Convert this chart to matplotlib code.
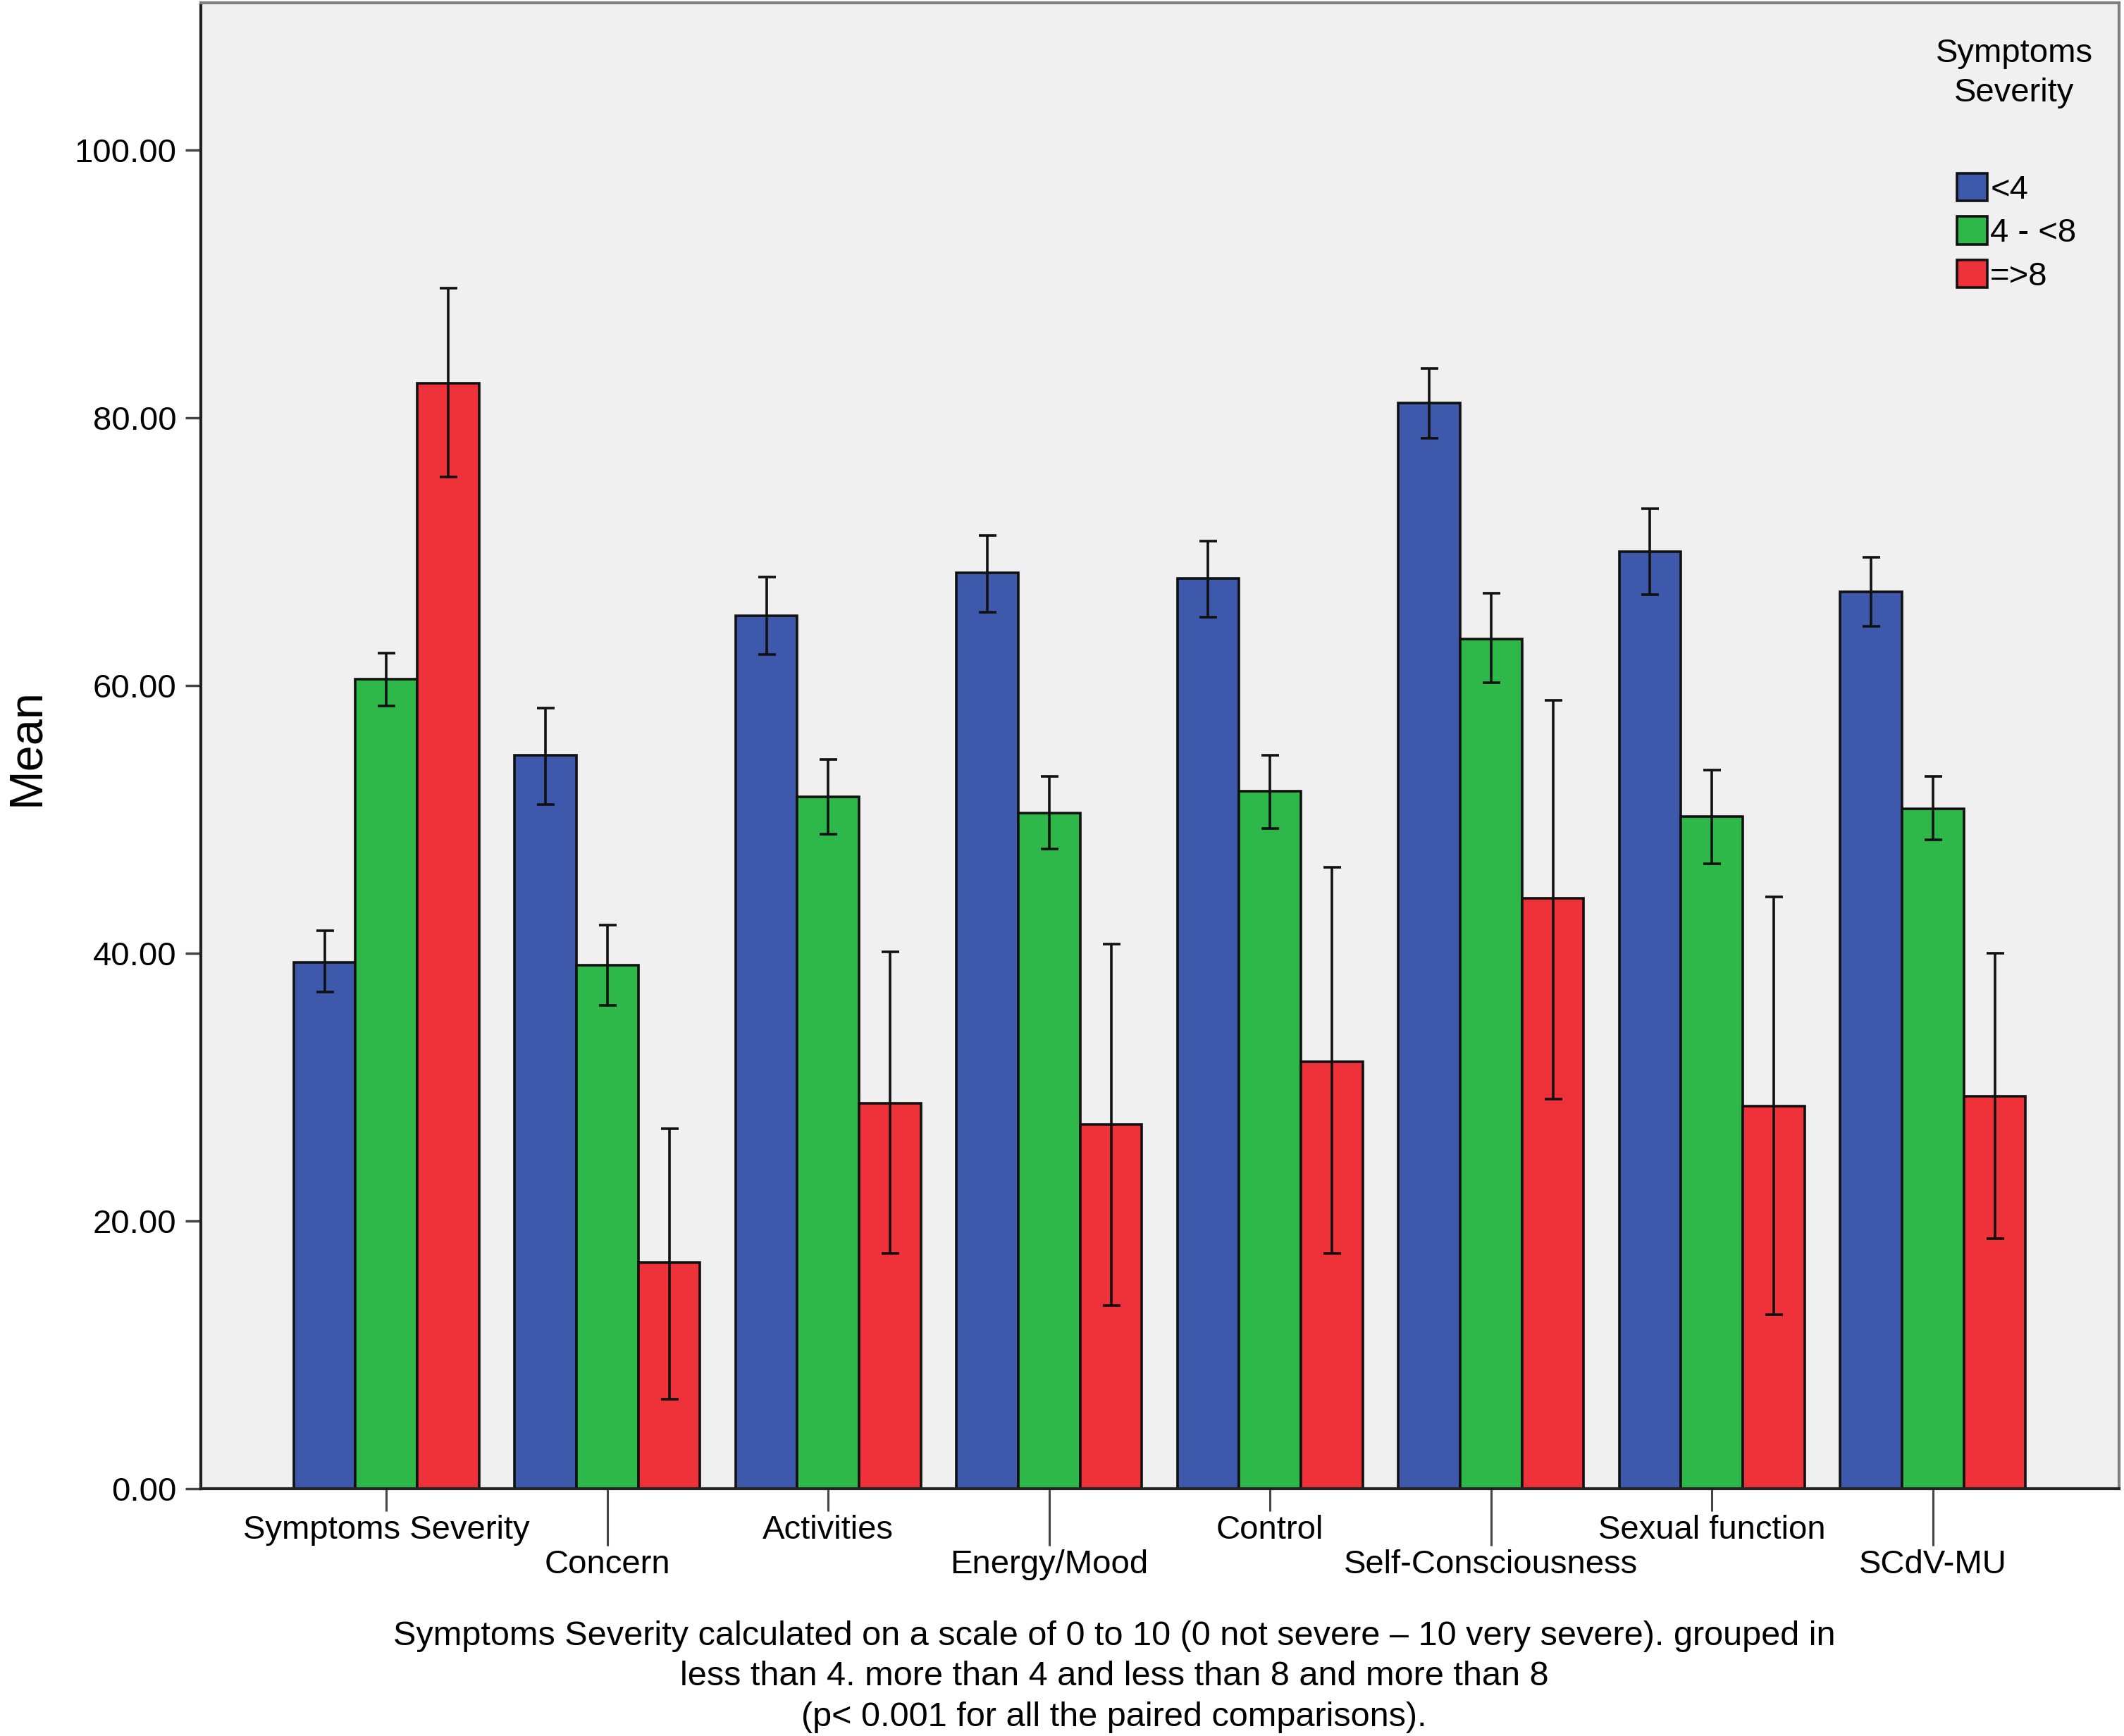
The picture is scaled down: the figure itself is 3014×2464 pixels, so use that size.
import matplotlib.pyplot as plt
import numpy as np

plt.rcParams['font.family'] = ['Liberation Sans', 'DejaVu Sans']

categories = ["Symptoms Severity", "Concern", "Activities", "Energy/Mood",
              "Control", "Self-Consciousness", "Sexual function", "SCdV-MU"]
groups = ["<4", "4 - <8", "=>8"]

# means per severity group
mean_low = [39.3, 54.8, 65.2, 68.4, 68.0, 81.1, 70.0, 67.0]
mean_mid = [60.5, 39.1, 51.7, 50.5, 52.1, 63.5, 50.2, 50.8]
mean_high = [82.6, 16.9, 28.8, 27.2, 31.9, 44.1, 28.6, 29.3]

# lower / upper ends of the error bars
lo_low = [37.1, 51.1, 62.3, 65.5, 65.1, 78.5, 66.8, 64.4]
hi_low = [41.7, 58.3, 68.1, 71.2, 70.8, 83.7, 73.2, 69.6]
lo_mid = [58.5, 36.1, 48.9, 47.8, 49.3, 60.2, 46.7, 48.5]
hi_mid = [62.4, 42.1, 54.5, 53.2, 54.8, 66.9, 53.7, 53.2]
lo_high = [75.6, 6.7, 17.6, 13.7, 17.6, 29.1, 13.0, 18.7]
hi_high = [89.7, 26.9, 40.1, 40.7, 46.4, 58.9, 44.2, 40.0]

colors = ["#3e58ab", "#2eb84a", "#ef323a"]

caption = ("Symptoms Severity calculated on a scale of 0 to 10 (0 not severe \u2013 10 very severe). grouped in\n"
           "less than 4. more than 4 and less than 8 and more than 8\n"
           "(p< 0.001 for all the paired comparisons).")

if __name__ == "__main__":
    fig = plt.figure(figsize=(30.14, 24.64), dpi=100)
    ax = fig.add_axes([285 / 3014, 1 - 2113 / 2464, (3007 - 285) / 3014, (2113 - 4) / 2464])
    ax.set_facecolor("#f0f0f0")

    x = np.arange(len(categories))
    w = 0.28
    series = [(mean_low, lo_low, hi_low), (mean_mid, lo_mid, hi_mid), (mean_high, lo_high, hi_high)]
    handles = []
    for i, (m, lo, hi) in enumerate(series):
        m = np.array(m)
        pos = x + (i - 1) * w
        b = ax.bar(pos, m, width=w, color=colors[i], edgecolor="#111111", linewidth=2.6,
                   label=groups[i], zorder=2)
        handles.append(b)
        ax.errorbar(pos, m, yerr=[m - np.array(lo), np.array(hi) - m], fmt="none",
                    ecolor="#111111", elinewidth=2.6, capsize=9, capthick=2.6, zorder=3)

    ax.set_ylim(0, 111)
    ax.set_xlim(-0.84, 7.843)
    ax.set_yticks(np.arange(0, 101, 20))
    ax.set_yticklabels([f"{v:.2f}" for v in range(0, 101, 20)])
    ax.tick_params(axis="y", labelsize=34, length=16, width=2.5, color="#444444", pad=9)

    # staggered labels: even groups short ticks, odd groups long ticks
    ax.set_xticks(x[0::2], labels=categories[0::2])
    ax.set_xticks(x[1::2], labels=categories[1::2], minor=True)
    ax.tick_params(axis="x", which="major", labelsize=34, length=23, width=2.2, color="#444444", pad=4)
    ax.tick_params(axis="x", which="minor", labelsize=34, length=58, width=2.2, color="#444444", pad=4)

    for s in ["left", "bottom"]:
        ax.spines[s].set_color("#222222")
        ax.spines[s].set_linewidth(3)
    for s in ["top", "right"]:
        ax.spines[s].set_color("#808080")
        ax.spines[s].set_linewidth(3)

    fig.text(38 / 3014, 1 - 1060 / 2464, "Mean", rotation=90, ha="center", va="center", fontsize=48)

    fig.text(2858 / 3014, 1 - 104 / 2464, "Symptoms\nSeverity", ha="center", va="center",
             fontsize=34, linespacing=1.38)
    ax.legend(handles=handles, loc="upper left", bbox_to_anchor=(2777 / 3014, 1 - 246 / 2464),
              bbox_transform=fig.transFigure, frameon=False, fontsize=34, borderpad=0,
              borderaxespad=0, handlelength=0.9, handleheight=0.9, handletextpad=0.1,
              labelspacing=0.33)

    fig.text(1581 / 3014, 1 - 2380 / 2464, caption, ha="center", va="center",
             fontsize=35, linespacing=1.36)

    fig.savefig("out.png", dpi=100)
